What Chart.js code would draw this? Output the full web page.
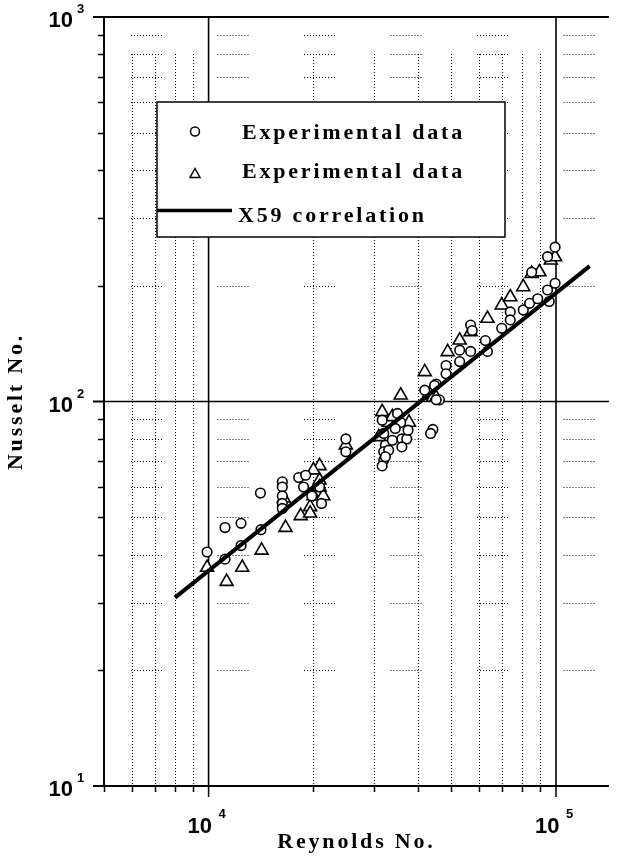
<!DOCTYPE html>
<html>
<head>
<meta charset="utf-8">
<title>Nusselt No. vs Reynolds No.</title>
<script src="https://cdn.jsdelivr.net/npm/chart.js@4.4.0/dist/chart.umd.min.js"></script>
<style>
  html, body { margin: 0; padding: 0; background: #fff; }
  #chart { display: block; }
</style>
</head>
<body>
<canvas id="chart" width="618" height="857"></canvas>
<script>
// experimental data, series 1 (circles)
var circleRe = [9900, 11150, 11150, 12400, 12400, 14100, 14150, 16300, 16300, 16300, 16300, 16300,
  18170, 19030, 18770, 19820, 20870, 21140, 24840, 24840, 34970, 31600, 35720, 31930, 34460, 36000,
  37190, 32280, 31930, 31930, 32990, 36000, 33800, 31600, 32280, 37510, 44220, 43560, 41900, 45200,
  46170, 44710, 45200, 48260, 48260, 52810, 52810, 56790, 56790, 57400, 62620, 63480, 69790, 73850,
  73850, 80500, 83950, 88600, 95600, 94550, 99400, 85110, 94550, 99400]
var circleNu = [40.6, 47.0, 38.9, 48.2, 42.2, 57.8, 46.4, 61.8, 59.9, 56.8, 54.3, 52.7,
  63.4, 64.3, 59.9, 56.8, 59.9, 54.3, 79.9, 74.0, 93.1, 89.4, 88.2, 82.6, 85.1, 79.9,
  79.9, 77.0, 74.0, 70.4, 74.7, 76.2, 79.3, 68.0, 71.8, 84.2, 84.6, 82.6, 107, 111,
  101, 110, 101, 124, 118, 136, 127, 135, 158, 153, 144, 135, 155, 171,
  163, 173, 180, 185, 182, 195, 203, 217, 238, 252]

// experimental data, series 2 (triangles)
var triRe = [9900, 11270, 12500, 14210, 16650, 16460, 20870, 20870, 20030, 20030, 21380, 18410,
  19600, 19600, 20870, 24840, 31600, 35720, 32990, 37750, 30910, 33800, 42810, 44220, 45200,
  41900, 48770, 52810, 56790, 63480, 69790, 73850, 80500, 85110, 89600, 96600, 99400]
var triNu = [37.0, 34.0, 37.0, 41.0, 47.0, 56.0, 68.0, 62.4, 66.3, 56.8, 56.8, 50.4,
  53.2, 51.2, 59.9, 77.0, 94.0, 103.8, 88.2, 88.2, 80.9, 91.2, 103.8, 102.4, 102.4,
  119.4, 134.6, 144.3, 151.7, 164.4, 178.0, 187.0, 198.6, 215.1, 217.2, 232.9, 237.6]

// X59 correlation (straight in log-log)
var lineRe = [8000, 125000]
var lineNu = [30.9, 225]

// axes
var xMajor = [10000, 100000]
var xMinor = [5000, 6000, 7000, 8000, 9000, 20000, 30000, 40000, 50000, 60000, 70000, 80000, 90000]
var yMajor = [10, 100, 1000]
var yMinor = [20, 30, 40, 50, 60, 70, 80, 90, 200, 300, 400, 500, 600, 700, 800, 900]
var xTickLabels = ['4', '5']
var yTickLabels = ['1', '2', '3']

;(function (global) {
  var Chart = global.Chart
  var canvas = global.document.getElementById('chart')

  function pairs (xs, ys) {
    return xs.map(function (v, i) { return { x: v, y: ys[i] } })
  }

  var SERIF = '"Liberation Serif", "Times New Roman", serif'
  var SANS = '"Liberation Sans", Arial, sans-serif'

  function hline (ctx, x0, x1, y) { ctx.beginPath(); ctx.moveTo(x0, y); ctx.lineTo(x1, y); ctx.stroke() }
  function vline (ctx, x, y0, y1) { ctx.beginPath(); ctx.moveTo(x, y0); ctx.lineTo(x, y1); ctx.stroke() }

  // dotted run of ~33px repeating every ~86px (the broken minor grid look)
  function runDash (pairsCount, period) {
    var d = []
    for (var i = 0; i < pairsCount; i++) d.push(1, 2)
    d[d.length - 1] = period - 3 * pairsCount + 2
    return d
  }

  var frame = {
    id: 'frame',
    beforeDraw: function (chart) {
      var ctx = chart.ctx
      ctx.save()
      ctx.fillStyle = '#fff'
      ctx.fillRect(0, 0, chart.width, chart.height)
      ctx.restore()
    },
    beforeDatasetsDraw: function (chart) {
      var ctx = chart.ctx
      var a = chart.chartArea
      var x = chart.scales.x
      var y = chart.scales.y
      ctx.save()
      ctx.strokeStyle = '#000'
      ctx.lineWidth = 1

      // minor vertical grid, dotted
      ctx.setLineDash([1, 2])
      var vTop = Math.round(y.getPixelForValue(800))
      xMinor.forEach(function (v) {
        if (v <= x.min) return
        var px = Math.round(x.getPixelForValue(v)) + 0.5
        vline(ctx, px, vTop, a.bottom)
      })

      // minor horizontal grid, broken dotted runs
      var period = 86.5
      ctx.setLineDash(runDash(11, period))
      ctx.lineDashOffset = period - (131 - a.left)
      yMinor.forEach(function (v) {
        var py = Math.round(y.getPixelForValue(v)) + 0.5
        hline(ctx, a.left, a.right, py)
      })
      ctx.setLineDash([])
      ctx.lineDashOffset = 0

      // major grid
      ctx.strokeStyle = '#000'
      ctx.lineWidth = 1.6
      xMajor.forEach(function (v) {
        vline(ctx, x.getPixelForValue(v), a.top, a.bottom)
      })
      yMajor.forEach(function (v) {
        if (v === y.min || v === y.max) return
        hline(ctx, a.left, a.right, y.getPixelForValue(v))
      })

      // frame lines and ticks
      ctx.lineWidth = 2
      vline(ctx, a.left, a.top, a.bottom)
      yMajor.forEach(function (v) {
        hline(ctx, a.left - 11, v === y.min || v === y.max ? a.right : a.left, y.getPixelForValue(v))
      })
      ctx.lineWidth = 1.5
      yMinor.forEach(function (v) {
        hline(ctx, a.left - 6, a.left, Math.round(y.getPixelForValue(v)) + 0.5)
      })
      xMajor.forEach(function (v) {
        vline(ctx, x.getPixelForValue(v), a.bottom, a.bottom + 11)
      })
      xMinor.forEach(function (v) {
        vline(ctx, Math.round(x.getPixelForValue(v)) + 0.5, a.bottom, a.bottom + 6)
      })
      ctx.restore()
    },
    afterDraw: function (chart) {
      var ctx = chart.ctx
      var a = chart.chartArea
      var x = chart.scales.x
      var y = chart.scales.y
      ctx.save()
      ctx.fillStyle = '#000'
      ctx.textBaseline = 'alphabetic'

      // tick labels 10^n
      yMajor.forEach(function (v, i) {
        var py = y.getPixelForValue(v)
        ctx.font = 'bold 22px ' + SANS
        ctx.textAlign = 'right'
        ctx.fillText('10', 73, py + 10)
        ctx.font = 'bold 13px ' + SANS
        ctx.textAlign = 'left'
        ctx.fillText(yTickLabels[i], 77, py - 4)
      })
      xMajor.forEach(function (v, i) {
        var px = x.getPixelForValue(v)
        ctx.font = 'bold 22px ' + SANS
        ctx.textAlign = 'right'
        ctx.fillText('10', px + 3.5, 833)
        ctx.font = 'bold 13px ' + SANS
        ctx.textAlign = 'left'
        ctx.fillText(xTickLabels[i], px + 10, 818)
      })

      // axis titles
      ctx.font = 'bold 22px ' + SERIF
      ctx.letterSpacing = '2.8px'
      ctx.textAlign = 'center'
      ctx.fillText('Reynolds No.', (a.left + a.right) / 2, 848)
      ctx.save()
      ctx.translate(21.5, (a.top + a.bottom) / 2)
      ctx.rotate(-Math.PI / 2)
      ctx.fillText('Nusselt No.', 0, 0)
      ctx.restore()

      // legend box
      var ds = chart.data.datasets
      ctx.fillStyle = '#fff'
      ctx.fillRect(157, 102, 348, 135)
      ctx.strokeStyle = '#000'
      ctx.lineWidth = 1.5
      ctx.strokeRect(157, 102, 348, 135)

      ctx.lineWidth = 1.5
      ctx.beginPath()
      ctx.arc(195, 131.5, 4.5, 0, Math.PI * 2)
      ctx.fillStyle = '#fff'
      ctx.fill()
      ctx.stroke()

      ctx.beginPath()
      ctx.moveTo(195, 168.5)
      ctx.lineTo(200, 177.5)
      ctx.lineTo(190, 177.5)
      ctx.closePath()
      ctx.fill()
      ctx.stroke()

      ctx.lineWidth = 3.5
      hline(ctx, 157, 232, 210.5)

      ctx.fillStyle = '#000'
      ctx.textAlign = 'left'
      ctx.fillText(ds[0].label, 242, 138.5)
      ctx.fillText(ds[1].label, 242, 177.5)
      ctx.fillText(ds[2].label, 238, 221.5)
      ctx.letterSpacing = '0px'
      ctx.restore()
    }
  }

  new Chart(canvas, {
    type: 'scatter',
    data: {
      datasets: [
        {
          label: 'Experimental data',
          data: pairs(circleRe, circleNu),
          pointStyle: 'circle',
          pointRadius: 4.8,
          borderWidth: 1.6,
          borderColor: '#000',
          backgroundColor: '#fff',
          order: 1
        },
        {
          label: 'Experimental data',
          data: pairs(triRe, triNu),
          pointStyle: 'triangle',
          pointRadius: 7.5,
          borderWidth: 1.6,
          borderColor: '#000',
          backgroundColor: '#fff',
          order: 2
        },
        {
          label: 'X59 correlation',
          data: pairs(lineRe, lineNu),
          showLine: true,
          pointRadius: 0,
          borderWidth: 4,
          borderColor: '#000',
          order: 0
        }
      ]
    },
    options: {
      responsive: false,
      animation: false,
      layout: { padding: { left: 104, top: 17, right: 0, bottom: 71 } },
      plugins: { legend: { display: false }, tooltip: { enabled: false } },
      scales: {
        x: { type: 'logarithmic', min: 5000, max: 142000, display: false },
        y: { type: 'logarithmic', min: 10, max: 1000, display: false }
      }
    },
    plugins: [frame]
  })
}(this))
</script>
</body>
</html>
